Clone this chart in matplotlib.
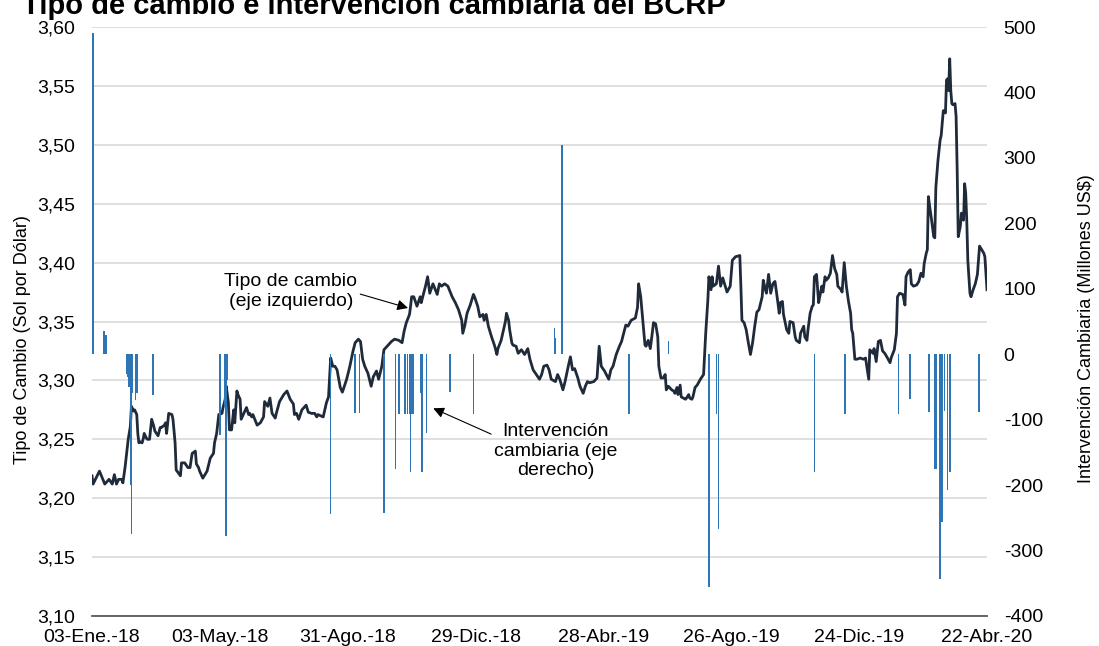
import numpy as np
import matplotlib.pyplot as plt

plt.rcParams['font.family'] = ['Liberation Sans', 'DejaVu Sans']
fs = 14

# tipo de cambio: dias desde el 03-Ene-18 y valor (S/ por US$)
dias_tc = [0, 1, 7, 12, 16, 19, 21, 23, 25, 28, 29, 31, 34, 36, 37, 39, 40, 42, 43, 44, 45, 47, 48, 49, 51, 52, 54,
           56, 58, 59, 62, 64, 65, 68, 69, 70, 72, 75, 76, 78, 79, 83, 84, 87, 90, 92, 94, 97, 98, 100, 101, 104,
           108, 111, 114, 115, 117, 119, 122, 123, 125, 126, 128, 129, 131, 133, 134, 136, 137, 139, 140, 144, 145,
           147, 148, 150, 151, 155, 158, 161, 162, 165, 167, 169, 172, 173, 176, 180, 183, 186, 189, 190, 192, 194,
           197, 201, 203, 206, 209, 211, 212, 217, 220, 222, 224, 226, 228, 230,
           233, 235, 239, 242, 245, 247, 250, 252, 254, 256, 259, 262, 264, 267, 269, 272, 274, 277, 281, 284, 288,
           291, 293, 295, 298, 299, 300, 302, 305, 308, 309, 313, 315, 317, 320, 324, 326, 328, 331, 334, 338, 341,
           344, 347, 348, 350, 352, 355, 358, 359, 362, 364, 367, 368, 370, 372, 375, 378, 380, 381, 384, 386, 388,
           389, 391, 392, 394, 395, 398, 400, 403, 406, 409, 411, 414, 417, 420, 422, 424, 427, 429, 431, 435, 437,
           439, 442, 444, 447, 449, 451, 453, 456, 458, 461, 463, 465, 467, 471, 474, 476, 478, 481, 485, 487, 489,
           492, 495, 497, 499, 501, 503, 506, 510,
           512, 513, 515, 517, 519, 520, 522, 524, 525, 527, 529, 531, 532, 534, 536, 538, 539, 541, 542, 544, 546,
           547, 549, 550, 552, 553, 555, 557, 558, 560, 561, 563, 564, 566, 568, 571, 574, 575, 576, 578, 579, 581,
           582, 583, 586, 588, 590, 592, 596, 599, 601, 604, 608, 609, 610, 612, 614, 616, 618, 620, 622, 624, 626,
           629, 630, 632, 633, 635, 637, 639, 641, 643, 645, 646, 648, 649, 652, 654, 655, 658, 660, 661, 664, 665,
           668, 669, 671, 672, 674, 676, 677, 678, 680, 682, 683, 685, 686, 688, 689, 691, 693, 695, 697, 699, 700,
           703, 704, 706, 708, 710, 712, 713, 714, 716, 718, 721, 724, 726, 729, 730, 733, 734, 736, 738, 740, 742,
           744, 746, 749, 750, 753, 755, 756, 758, 761, 763, 764, 766, 768, 769, 771, 774, 776, 778,
           780, 781, 783, 784, 785, 786, 788, 790, 791, 792, 794, 796, 797, 799, 801, 802, 803, 804, 805, 806, 807,
           808, 810, 811, 812, 813, 815, 816, 818, 819, 820, 821, 822, 824, 825, 827, 829, 831, 833, 835, 837, 838,
           840]
tipo_cambio = [3.219, 3.212, 3.223, 3.212, 3.216, 3.212, 3.220, 3.212, 3.216, 3.216, 3.213, 3.226, 3.250, 3.261,
               3.278, 3.274, 3.275, 3.271, 3.255, 3.247, 3.248, 3.247, 3.250, 3.255, 3.251, 3.250, 3.250, 3.267,
               3.261, 3.257, 3.253, 3.260, 3.260, 3.262, 3.264, 3.255, 3.272, 3.271, 3.267, 3.247, 3.224, 3.219,
               3.230, 3.230, 3.226, 3.226, 3.238, 3.240, 3.229, 3.226, 3.223, 3.217, 3.223, 3.234, 3.238, 3.247,
               3.255, 3.271, 3.272, 3.277, 3.284, 3.295, 3.281, 3.258, 3.258, 3.275, 3.264, 3.291, 3.288, 3.284,
               3.267, 3.275, 3.277, 3.271, 3.272, 3.269, 3.271, 3.262, 3.264, 3.269, 3.282, 3.278, 3.285, 3.272,
               3.268, 3.272, 3.282, 3.288, 3.291, 3.284, 3.280, 3.271, 3.272, 3.267, 3.275, 3.279, 3.273, 3.272,
               3.272, 3.269, 3.271, 3.269, 3.281, 3.286, 3.319, 3.312, 3.312, 3.309,
               3.294, 3.290, 3.301, 3.312, 3.325, 3.332, 3.335, 3.333, 3.318, 3.312, 3.306, 3.295, 3.303, 3.308,
               3.301, 3.312, 3.326, 3.329, 3.333, 3.335, 3.334, 3.332, 3.342, 3.349, 3.356, 3.363, 3.371, 3.371,
               3.363, 3.371, 3.366, 3.380, 3.388, 3.374, 3.382, 3.373, 3.382, 3.380, 3.382, 3.380, 3.371, 3.366,
               3.360, 3.351, 3.340, 3.347, 3.357, 3.364, 3.373, 3.371, 3.363, 3.354, 3.356, 3.351, 3.356, 3.346,
               3.337, 3.329, 3.322, 3.327, 3.334, 3.342, 3.350, 3.357, 3.351, 3.343, 3.332, 3.330, 3.329, 3.323,
               3.326, 3.322, 3.327, 3.318, 3.309, 3.305, 3.301, 3.305, 3.312, 3.313, 3.309, 3.301, 3.299, 3.305,
               3.301, 3.292, 3.299, 3.312, 3.320, 3.309, 3.310, 3.302, 3.295, 3.289, 3.295, 3.299, 3.298, 3.299,
               3.302, 3.329, 3.312, 3.308, 3.301, 3.309, 3.312, 3.322, 3.329, 3.333, 3.340, 3.347, 3.346, 3.351,
               3.353,
               3.362, 3.382, 3.371, 3.351, 3.330, 3.329, 3.334, 3.327, 3.334, 3.349, 3.348, 3.337, 3.312, 3.302,
               3.302, 3.305, 3.292, 3.295, 3.294, 3.292, 3.291, 3.289, 3.294, 3.288, 3.296, 3.286, 3.285, 3.284,
               3.285, 3.288, 3.285, 3.284, 3.286, 3.294, 3.296, 3.301, 3.305, 3.322, 3.340, 3.368, 3.388, 3.377,
               3.388, 3.380, 3.382, 3.397, 3.380, 3.387, 3.375, 3.380, 3.402, 3.405, 3.406, 3.380, 3.351, 3.349,
               3.343, 3.332, 3.322, 3.332, 3.346, 3.358, 3.360, 3.371, 3.385, 3.377, 3.374, 3.390, 3.374, 3.382,
               3.384, 3.371, 3.357, 3.366, 3.367, 3.356, 3.343, 3.340, 3.350, 3.349, 3.337, 3.334, 3.332, 3.340,
               3.346, 3.337, 3.334, 3.343, 3.357, 3.363, 3.364, 3.388, 3.390, 3.366, 3.371, 3.380, 3.375, 3.388,
               3.385, 3.387, 3.391, 3.406, 3.395, 3.390, 3.380, 3.377, 3.375, 3.400, 3.380, 3.367, 3.357, 3.343,
               3.340, 3.318, 3.318, 3.319, 3.318, 3.319, 3.301, 3.326, 3.323, 3.327, 3.316, 3.333, 3.334, 3.325,
               3.323, 3.320, 3.315, 3.319, 3.326, 3.340, 3.371, 3.374, 3.373, 3.364, 3.388, 3.392, 3.394, 3.382,
               3.380, 3.381, 3.384, 3.391,
               3.388, 3.399, 3.408, 3.411, 3.456, 3.449, 3.436, 3.422, 3.421, 3.464, 3.487, 3.504, 3.508, 3.529,
               3.527, 3.555, 3.556, 3.546, 3.573, 3.546, 3.535, 3.534, 3.535, 3.524, 3.479, 3.422, 3.431, 3.442,
               3.436, 3.467, 3.459, 3.436, 3.402, 3.374, 3.371, 3.377, 3.382, 3.390, 3.414, 3.411, 3.408, 3.405,
               3.377]

# intervencion cambiaria (millones US$)
dias_int = [0, 1, 11, 13, 33, 34, 35, 36, 37, 38, 41, 42, 57, 120, 125, 126, 127, 224, 247, 251, 274, 285, 288,
            294, 296, 298, 299, 300, 301, 309, 310, 314, 336, 358, 434, 435, 441, 504, 541, 579, 586, 588, 678,
            707, 757, 768, 785, 786, 791, 792, 796, 797, 798, 800, 803, 805, 832, 833]
intervencion = [13, 491, 35, 30, -30, -35, -50, -200, -274, -60, -70, -60, -63, -124, -80, -277, -40, -244, -90,
                -90, -242, -176, -91, -91, -91, -91, -180, -91, -91, -60, -180, -120, -57, -91, 40, 25, 320, -91,
                20, -355, -91, -267, -180, -91, -91, -68, -88, -88, -175, -175, -343, -256, -256, -86, -207, -180,
                -88, -88]

ticks_x = [0, 120, 240, 360, 480, 600, 720, 840]
etiquetas_x = ['03-Ene.-18', '03-May.-18', '31-Ago.-18', '29-Dic.-18', '28-Abr.-19', '26-Ago.-19',
               '24-Dic.-19', '22-Abr.-20']

fig = plt.figure(figsize=(10.99, 6.46), dpi=100)
ax = fig.add_axes([92 / 1099, 30 / 646, 895 / 1099, 589 / 646])
ax2 = ax.twinx()

ax.plot(dias_tc, tipo_cambio, color='#1f2a3a', lw=2.0, zorder=3)
ax2.bar(dias_int, intervencion, width=1.5, color='#2e75b6')

ax.set_xlim(0, 840)
ax.set_ylim(3.10, 3.60)
yt = np.arange(3.10, 3.601, 0.05)
ax.set_yticks(yt)
ax.set_yticklabels([f'{v:.2f}'.replace('.', ',') for v in yt], fontsize=fs)
ax2.set_ylim(-400, 500)
ax2.set_yticks(range(-400, 501, 100))
ax2.set_yticklabels([str(v) for v in range(-400, 501, 100)], fontsize=fs)
ax.set_xticks(ticks_x)
ax.set_xticklabels(etiquetas_x, fontsize=fs)

ax.yaxis.grid(True, color='#d9d9d9', lw=1.2)
ax.set_axisbelow(True)
for s in ['top', 'left', 'right']:
    ax.spines[s].set_visible(False)
    ax2.spines[s].set_visible(False)
ax2.spines['bottom'].set_visible(False)
ax.spines['bottom'].set_color('#595959')
ax.spines['bottom'].set_linewidth(1.3)
ax.tick_params(axis='both', length=0)
ax.tick_params(axis='y', pad=12)
ax.tick_params(axis='x', pad=9)
ax2.tick_params(axis='y', length=0, pad=12)

ax.set_ylabel('Tipo de Cambio (Sol por Dólar)', fontsize=13)
ax.yaxis.set_label_coords(-0.068, 0.469)
ax2.set_ylabel('Intervención Cambiaria (Millones US$)', fontsize=13)
ax2.yaxis.set_label_coords(1.102, 0.488)

fig.text(22 / 1099, 1 - 14 / 646, 'Tipo de cambio e intervención cambiaria del BCRP',
         fontsize=21, fontweight='bold', va='baseline')

ax.annotate('Tipo de cambio\n(eje izquierdo)', xy=(0.3531, 0.5229), xytext=(0.2223, 0.551),
            xycoords='axes fraction', textcoords='axes fraction', ha='center', va='center', fontsize=fs,
            arrowprops=dict(arrowstyle='-|>', color='black', lw=0.8, mutation_scale=16, shrinkA=0, shrinkB=0,
                            relpos=(1.0, 0.45)))
ax.annotate('Intervención\ncambiaria (eje\nderecho)', xy=(0.3813, 0.3526), xytext=(0.518, 0.280),
            xycoords='axes fraction', textcoords='axes fraction', ha='center', va='center', fontsize=fs,
            arrowprops=dict(arrowstyle='-|>', color='black', lw=0.8, mutation_scale=16, shrinkA=0, shrinkB=0,
                            relpos=(0.0, 0.78)))

fig.savefig('out.png', dpi=100)
